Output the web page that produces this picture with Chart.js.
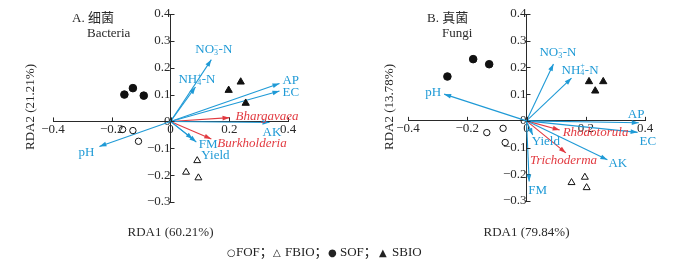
<!DOCTYPE html>
<html>
<head>
<meta charset="utf-8">
<script src="https://cdn.jsdelivr.net/npm/chart.js"></script>
<style>
body { margin: 0; background: #fff; }
#wrap { position: relative; width: 675px; height: 264px; overflow: hidden; }
canvas { position: absolute; top: 0; }
#legend { position: absolute; top: 244px; left: 0; width: 675px; height: 18px;
  font: 13px "Liberation Serif", "Noto Sans CJK SC", serif; color: #222; }
#legend span { position: absolute; top: 0; height: 16px; line-height: 16px; white-space: nowrap; }
#legend .sym { font: 10px "DejaVu Sans", sans-serif; line-height: 16px; top: 1px; }
</style>
</head>
<body>
<div id="wrap">
  <canvas id="chartA" width="337" height="264" style="left:0"></canvas>
  <canvas id="chartB" width="338" height="264" style="left:337px"></canvas>
  <div id="legend">
    <span class="sym" style="left:227px">○</span><span style="left:236px">FOF；</span>
    <span class="sym" style="left:273px">△</span><span style="left:285px">FBIO；</span>
    <span class="sym" style="left:328px">●</span><span style="left:340px">SOF；</span>
    <span class="sym" style="left:379px">▲</span><span style="left:392px">SBIO</span>
  </div>
</div>
<script>
// tick values
const xTicks = [-0.4, -0.2, 0, 0.2, 0.4];
const yTicks = [-0.3, -0.2, -0.1, 0, 0.1, 0.2, 0.3, 0.4];

// environmental factors (blue arrows)
const envNames = ['NO3-N', 'NH4-N', 'AP', 'EC', 'AK', 'pH', 'FM', 'Yield'];
const bacEnvX = [0.139, 0.085, 0.371, 0.371, 0.337, -0.242, 0.076, 0.088];
const bacEnvY = [0.230, 0.128, 0.141, 0.113, -0.004, -0.093, -0.065, -0.077];
const funEnvX = [0.091, 0.152, 0.379, 0.375, 0.273, -0.278, 0.009, 0.021];
const funEnvY = [0.213, 0.160, -0.007, -0.043, -0.146, 0.100, -0.227, -0.053];

// genera (red arrows)
const bacGenera = ['Bhargavaea', 'Burkholderia'];
const bacGenX = [0.201, 0.139];
const bacGenY = [0.014, -0.065];
const funGenera = ['Rhodotorula', 'Trichoderma'];
const funGenX = [0.112, 0.133];
const funGenY = [-0.034, -0.120];

// samples
const bacFOFx = [-0.163, -0.128, -0.109], bacFOFy = [-0.030, -0.034, -0.074];
const bacFBIOx = [0.091, 0.053, 0.095], bacFBIOy = [-0.146, -0.189, -0.210];
const bacSOFx = [-0.157, -0.128, -0.091], bacSOFy = [0.100, 0.124, 0.096];
const bacSBIOx = [0.198, 0.239, 0.256], bacSBIOy = [0.116, 0.147, 0.068];

const funFOFx = [-0.134, -0.079, -0.072], funFOFy = [-0.044, -0.028, -0.081];
const funFBIOx = [0.152, 0.197, 0.203], funFBIOy = [-0.231, -0.211, -0.250];
const funSOFx = [-0.267, -0.180, -0.126], funSOFy = [0.166, 0.231, 0.212];
const funSBIOx = [0.211, 0.259, 0.232], funSBIOy = [0.147, 0.147, 0.112];

const BLUE = '#1f9ad6';
const RED = '#e23a40';
const INK = '#2a2a2a';
const SERIF = '"Liberation Serif", "Noto Sans CJK SC", serif';

// label offsets from arrow tip, px (left edge, vertical centre)
const bacEnvOff = [[-16, -10], [-17, -7], [3, -3], [3, 1], [-7, 10], [-21, 6], [6, 6], [5, 13]];
const bacGenOff = [[6, -1], [6, 5]];
const funEnvOff = [[-14, -11], [-10, -8], [-11, -8], [2, 9], [1, 4], [-19, -2], [-1, 9], [-1, 7]];
const funGenOff = [[3, 3], [-36, 8]];

function fmt(v) {
  if (Math.abs(v) < 1e-9) return '0';
  return (v < 0 ? '\u2212' : '') + Math.abs(v).toFixed(1);
}

function pts(xs, ys) { return xs.map((x, i) => ({ x: x, y: ys[i] })); }

function arrowSets(xs, ys, color) {
  return xs.map((x, i) => ({
    type: 'line', data: [{ x: 0, y: 0 }, { x: x, y: ys[i] }],
    borderColor: color, backgroundColor: color, borderWidth: 1.1,
    pointRadius: 0, showLine: true, arrow: true, order: 2
  }));
}

function sampleSet(xs, ys, style, filled, r) {
  return {
    type: 'scatter', data: pts(xs, ys), pointStyle: style, pointRadius: r,
    borderColor: '#111', backgroundColor: filled ? '#111' : 'rgba(0,0,0,0)',
    borderWidth: 1, order: 1
  };
}

function drawChem(ctx, name, x, y) {
  ctx.textAlign = 'left';
  ctx.textBaseline = 'middle';
  const big = '13px ' + SERIF, small = '8px ' + SERIF;
  if (name === 'NO3-N' || name === 'NH4-N') {
    const base = name.slice(0, 2), sub = name[2];
    const sup = name === 'NO3-N' ? '\u2212' : '+';
    ctx.font = big; ctx.fillText(base, x, y);
    let cx = x + ctx.measureText(base).width;
    ctx.font = small;
    ctx.fillText(sub, cx, y + 3);
    ctx.fillText(sup, cx, y - 4);
    cx += Math.max(ctx.measureText(sub).width, ctx.measureText(sup).width);
    ctx.font = big; ctx.fillText('-N', cx, y);
  } else {
    ctx.font = big; ctx.fillText(name, x, y);
  }
}

function makePlugin(p) {
  return {
    id: 'rda' + p.tag,
    afterDatasetsDraw(chart) {
      const ctx = chart.ctx;
      const xs = chart.scales.x, ys = chart.scales.y;
      ctx.save();
      // inner tick marks
      ctx.strokeStyle = INK; ctx.lineWidth = 1;
      const x0 = xs.getPixelForValue(0), y0 = ys.getPixelForValue(0);
      ctx.beginPath();
      xTicks.forEach(v => { const px = Math.round(xs.getPixelForValue(v)) + 0.5; ctx.moveTo(px, y0); ctx.lineTo(px, y0 - 4); });
      yTicks.forEach(v => { const py = Math.round(ys.getPixelForValue(v)) + 0.5; ctx.moveTo(x0, py); ctx.lineTo(x0 + 4, py); });
      ctx.stroke();
      // arrow heads
      chart.data.datasets.forEach((ds, i) => {
        if (!ds.arrow) return;
        const m = chart.getDatasetMeta(i).data;
        const a = m[0], b = m[1];
        const ang = Math.atan2(b.y - a.y, b.x - a.x);
        ctx.fillStyle = ds.borderColor;
        ctx.beginPath();
        ctx.moveTo(b.x, b.y);
        ctx.lineTo(b.x - 7 * Math.cos(ang) + 2.4 * Math.sin(ang), b.y - 7 * Math.sin(ang) - 2.4 * Math.cos(ang));
        ctx.lineTo(b.x - 7 * Math.cos(ang) - 2.4 * Math.sin(ang), b.y - 7 * Math.sin(ang) + 2.4 * Math.cos(ang));
        ctx.closePath();
        ctx.fill();
      });
      // arrow labels
      ctx.fillStyle = BLUE;
      envNames.forEach((n, i) => {
        const px = xs.getPixelForValue(p.envX[i]) + p.envOff[i][0];
        const py = ys.getPixelForValue(p.envY[i]) + p.envOff[i][1];
        drawChem(ctx, n, px, py);
      });
      ctx.fillStyle = RED;
      ctx.font = 'italic 13px ' + SERIF;
      ctx.textAlign = 'left'; ctx.textBaseline = 'middle';
      p.genera.forEach((n, i) => {
        ctx.fillText(n, xs.getPixelForValue(p.genX[i]) + p.genOff[i][0], ys.getPixelForValue(p.genY[i]) + p.genOff[i][1]);
      });
      // titles
      ctx.fillStyle = INK;
      ctx.font = '13px ' + SERIF;
      ctx.textAlign = 'left';
      ctx.fillText(p.title, p.titleX, 19);
      ctx.fillText(p.sub, p.subX, 34);
      ctx.textAlign = 'center';
      ctx.fillText(p.xTitle, x0, 233);
      ctx.translate(p.yTitleX, 107);
      ctx.rotate(-Math.PI / 2);
      ctx.fillText(p.yTitle, 0, 0);
      ctx.restore();
    }
  };
}

function makeChart(id, p) {
  const datasets = []
    .concat(arrowSets(p.envX, p.envY, BLUE))
    .concat(arrowSets(p.genX, p.genY, RED))
    .concat([
      sampleSet(p.fofX, p.fofY, 'circle', false, 3.2),
      sampleSet(p.fbioX, p.fbioY, 'triangle', false, 4),
      sampleSet(p.sofX, p.sofY, 'circle', true, 3.8),
      sampleSet(p.sbioX, p.sbioY, 'triangle', true, 4.2)
    ]);
  const tickFont = { family: SERIF, size: 13 };
  return new Chart(id, {
    type: 'scatter',
    data: { datasets: datasets },
    options: {
      responsive: false, animation: false,
      layout: { padding: p.pad },
      plugins: { legend: { display: false }, tooltip: { enabled: false } },
      scales: {
        x: {
          type: 'linear', min: -0.4, max: 0.4, position: { y: 0 },
          afterBuildTicks: ax => { ax.ticks = xTicks.map(v => ({ value: v })); },
          grid: { display: false, drawTicks: false }, border: { display: true, color: INK, width: 1 },
          ticks: { font: tickFont, color: INK, padding: 0, maxRotation: 0, autoSkip: false, callback: fmt }
        },
        y: {
          type: 'linear', min: -0.3, max: 0.4, position: { x: 0 },
          afterBuildTicks: ax => { ax.ticks = yTicks.map(v => ({ value: v })); },
          grid: { display: false, drawTicks: false }, border: { display: true, color: INK, width: 1 },
          ticks: { font: tickFont, color: INK, padding: 3, autoSkip: false, callback: fmt }
        }
      }
    },
    plugins: [makePlugin(p)]
  });
}

makeChart('chartA', {
  tag: 'A', pad: { left: 53, right: 49, top: 14, bottom: 62 },
  envX: bacEnvX, envY: bacEnvY, envOff: bacEnvOff,
  genera: bacGenera, genX: bacGenX, genY: bacGenY, genOff: bacGenOff,
  fofX: bacFOFx, fofY: bacFOFy, fbioX: bacFBIOx, fbioY: bacFBIOy,
  sofX: bacSOFx, sofY: bacSOFy, sbioX: bacSBIOx, sbioY: bacSBIOy,
  title: 'A. 细菌', titleX: 72, sub: 'Bacteria', subX: 87,
  xTitle: 'RDA1 (60.21%)', yTitle: 'RDA2 (21.21%)', yTitleX: 31
});

makeChart('chartB', {
  tag: 'B', pad: { left: 71, right: 30, top: 14, bottom: 63 },
  envX: funEnvX, envY: funEnvY, envOff: funEnvOff,
  genera: funGenera, genX: funGenX, genY: funGenY, genOff: funGenOff,
  fofX: funFOFx, fofY: funFOFy, fbioX: funFBIOx, fbioY: funFBIOy,
  sofX: funSOFx, sofY: funSOFy, sbioX: funSBIOx, sbioY: funSBIOy,
  title: 'B. 真菌', titleX: 90, sub: 'Fungi', subX: 105,
  xTitle: 'RDA1 (79.84%)', yTitle: 'RDA2 (13.78%)', yTitleX: 53
});
</script>
</body>
</html>
